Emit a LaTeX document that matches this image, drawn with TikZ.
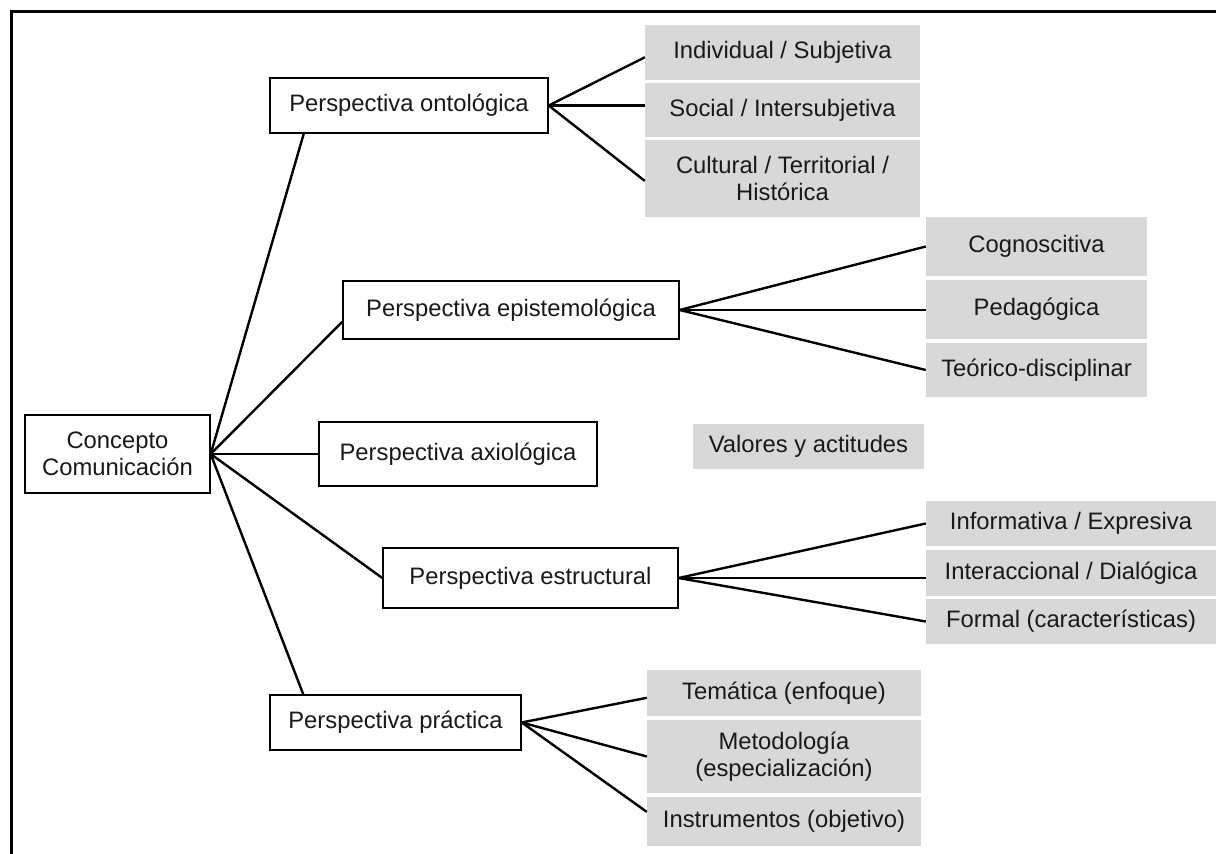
\documentclass[tikz,border=0pt]{standalone}
\usepackage{fontspec}
\setmainfont{Liberation Sans}
\definecolor{boxgray}{RGB}{216,216,216}
\begin{document}
\begin{tikzpicture}[x=1pt,y=-1pt,
  txt/.style={font=\fontsize{23.8}{27}\selectfont, align=center, inner sep=0pt, text=black!90},
  wbox/.style={txt, draw=black, line width=1.4pt, fill=white},
  gbox/.style={txt, fill=boxgray},
  conn/.style={line width=2.4pt, black}]
\useasboundingbox (0,0) rectangle (1216,854);
\draw[line width=3pt] (11,860) -- (11,11) -- (1220,11);

% main concept
\node[wbox, minimum width=185pt, minimum height=78pt] (concepto) at (117.5,454) {Concepto\\Comunicación};

% perspectives
\node[wbox, minimum width=278pt, minimum height=55pt] (onto) at (409,105.5) {Perspectiva ontológica};
\node[wbox, minimum width=336pt, minimum height=58pt] (episte) at (511,310) {Perspectiva epistemológica};
\node[wbox, minimum width=278pt, minimum height=64pt] (axio) at (458,454) {Perspectiva axiológica};
\node[wbox, minimum width=295pt, minimum height=60pt] (estruct) at (530.5,578) {Perspectiva estructural};
\node[wbox, minimum width=251pt, minimum height=55pt] (practica) at (395.5,722.5) {Perspectiva práctica};

% gray boxes
\node[gbox, minimum width=275pt, minimum height=55pt] (indiv) at (782.5,52.5) {Individual / Subjetiva};
\node[gbox, minimum width=275pt, minimum height=54pt] (social) at (782.5,110) {Social / Intersubjetiva};
\node[gbox, minimum width=275pt, minimum height=77pt] (cultural) at (782.5,178.5) {Cultural / Territorial /\\Histórica};

\node[gbox, minimum width=221pt, minimum height=59pt] (cogno) at (1036.5,246.5) {Cognoscitiva};
\node[gbox, minimum width=221pt, minimum height=59pt] (pedag) at (1036.5,309.5) {Pedagógica};
\node[gbox, minimum width=221pt, minimum height=54pt] (teorico) at (1036.5,370) {Teórico-disciplinar};

\node[gbox, minimum width=231pt, minimum height=45pt] (valores) at (808.5,446.5) {Valores y actitudes};

\node[gbox, minimum width=290pt, minimum height=45pt] (inform) at (1071,523.5) {Informativa / Expresiva};
\node[gbox, minimum width=290pt, minimum height=46pt] (interacc) at (1071,573) {Interaccional / Dialógica};
\node[gbox, minimum width=290pt, minimum height=45pt] (formal) at (1071,621.5) {Formal (características)};

\node[gbox, minimum width=274pt, minimum height=46pt] (tematica) at (784,693) {Temática (enfoque)};
\node[gbox, minimum width=274pt, minimum height=73pt] (metodo) at (784,756.5) {Metodología\\(especialización)};
\node[gbox, minimum width=274pt, minimum height=49pt] (instrum) at (784,821.5) {Instrumentos (objetivo)};

% connectors from concept
\draw[conn] (concepto.east) -- (onto.195);
\draw[conn] (concepto.east) -- (episte.184);
\draw[conn] (concepto.east) -- (axio.west);
\draw[conn] (concepto.east) -- (estruct.west);
\draw[conn] (concepto.east) -- (practica.163);

% ontological
\draw[conn] (onto.east) -- (indiv.182);
\draw[conn] (onto.east) -- (onto.east -| social.west);
\draw[conn] (onto.east) -- (cultural.181);

% epistemological
\draw[conn] (episte.east) -- (cogno.west);
\draw[conn] (episte.east) -- (episte.east -| pedag.west);
\draw[conn] (episte.east) -- (teorico.west);

% structural
\draw[conn] (estruct.east) -- (inform.west);
\draw[conn] (estruct.east) -- (estruct.east -| interacc.west);
\draw[conn] (estruct.east) -- (formal.west);

% practical
\draw[conn] (practica.east) -- (tematica.182);
\draw[conn] (practica.east) -- (metodo.west);
\draw[conn] (practica.east) -- (instrum.176);
\end{tikzpicture}
\end{document}
